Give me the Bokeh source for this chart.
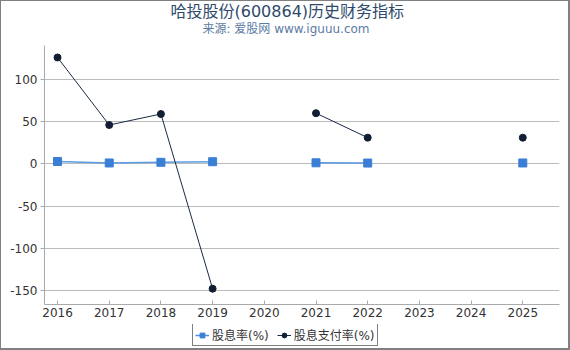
import numpy as np
from bokeh.plotting import figure
from bokeh.layouts import column
from bokeh.models import Legend, LegendItem, Range1d, FixedTicker, NumeralTickFormatter
from bokeh.core.properties import value
from bokeh.embed import file_html
from bokeh.resources import INLINE

years = [2016, 2017, 2018, 2019, 2020, 2021, 2022, 2023, 2024, 2025]
dividend_yield = [2.8, 1.0, 1.8, 2.5, np.nan, 1.2, 0.9, np.nan, np.nan, 1.0]
payout_ratio = [126, 46, 59, -148, np.nan, 60, 31, np.nan, np.nan, 31]
y_ticks = [-150, -100, -50, 0, 50, 100]
series_names = ["股息率(%)", "股息支付率(%)"]
title_text = "哈投股份(600864)历史财务指标"
subtitle_text = "来源: 爱股网 www.iguuu.com"

FONT = "DejaVu Sans, Noto Sans CJK SC"
C1_LINE, C1 = "#4a90e2", "#3a7fd5"
C2_LINE, C2 = "#1a2a44", "#111e33"
W = 567
ML, MR = 43, 9
FW = W - ML - MR  # frame width shared by the stacked figures

# ---- header (title + subtitle), pixel-based ranges (frame aligned with chart frame)
hd = figure(width=W, height=44, output_backend="svg", toolbar_location=None,
            x_range=Range1d(0, FW), y_range=Range1d(0, 44),
            min_border_left=ML, min_border_right=MR, min_border_top=0, min_border_bottom=0,
            outline_line_color=None, x_axis_location=None, y_axis_location=None)
hd.grid.visible = False
hd.text(x=[126], y=[34], text=[title_text], text_font=value(FONT), text_font_size="16px",
        text_color="#2e4a6b", text_align="left", text_baseline="middle")
hd.text(x=[158], y=[17], text=[subtitle_text], text_font=value(FONT), text_font_size="12px",
        text_color="#5b7ba3", text_align="left", text_baseline="middle")

# ---- main chart
p = figure(width=W, height=279, output_backend="svg", toolbar_location=None,
           x_range=Range1d(2015.748, 2025.71), y_range=Range1d(-166.7, 140.2),
           min_border_left=ML, min_border_right=MR, min_border_top=0, min_border_bottom=20)
p.outline_line_color = None
p.xgrid.grid_line_color = None
p.ygrid.grid_line_color = "#bbbbbb"
p.ygrid.grid_line_width = 1

p.yaxis.ticker = FixedTicker(ticks=y_ticks)
p.yaxis.formatter = NumeralTickFormatter(format="0")
p.xaxis.ticker = FixedTicker(ticks=years)
for ax in (p.xaxis[0], p.yaxis[0]):
    ax.axis_line_color = "#aaaaaa"
    ax.major_tick_line_color = "#aaaaaa"
    ax.minor_tick_line_color = None
    ax.major_label_text_font = FONT
    ax.major_label_text_font_size = "12px"
    ax.major_label_text_color = "#333333"
    ax.major_label_standoff = 3
p.yaxis.major_tick_out = 4
p.yaxis.major_tick_in = 0
p.xaxis.major_tick_out = 0
p.xaxis.major_tick_in = 4

p.line(years, dividend_yield, line_color=C1_LINE, line_width=1.5, line_alpha=0.9)
p.scatter(years, dividend_yield, marker="square", size=8, fill_color=C1, line_color=C1)
p.line(years, payout_ratio, line_color=C2_LINE, line_width=1)
p.scatter(years, payout_ratio, marker="circle", size=7, fill_color=C2, line_color=C2)

# ---- legend strip (same series, drawn out of view; only the legend shows)
lg = figure(width=W, height=24, output_backend="svg", toolbar_location=None,
            x_range=Range1d(2015.748, 2025.71), y_range=Range1d(1000, 1001),
            min_border_left=ML, min_border_right=MR, min_border_top=0, min_border_bottom=0,
            outline_line_color=None, x_axis_location=None, y_axis_location=None)
lg.grid.visible = False
l1 = lg.line(years, dividend_yield, line_color=C1_LINE, line_width=1.5)
m1 = lg.scatter(years, dividend_yield, marker="square", size=7, fill_color=C1, line_color=C1)
l2 = lg.line(years, payout_ratio, line_color=C2_LINE, line_width=1)
m2 = lg.scatter(years, payout_ratio, marker="circle", size=7, fill_color=C2, line_color=C2)
legend = Legend(items=[LegendItem(label=series_names[0], renderers=[l1, m1]),
                       LegendItem(label=series_names[1], renderers=[l2, m2])],
                orientation="horizontal", location=(148, 2),
                border_line_color="black", border_line_width=1,
                label_text_font=FONT, label_text_font_size="12px", label_text_color="#333333",
                glyph_width=14, glyph_height=12, label_height=12, spacing=8, padding=2,
                margin=0, label_standoff=3, background_fill_alpha=1)
lg.add_layout(legend, "center")

layout = column(hd, p, lg, spacing=0)
layout.styles = {"border-left": "1px solid #808080", "border-top": "1px solid #808080",
                 "border-right": "2px solid #808080", "border-bottom": "2px solid #808080"}

open("out.html", "w").write(file_html(layout, INLINE))
